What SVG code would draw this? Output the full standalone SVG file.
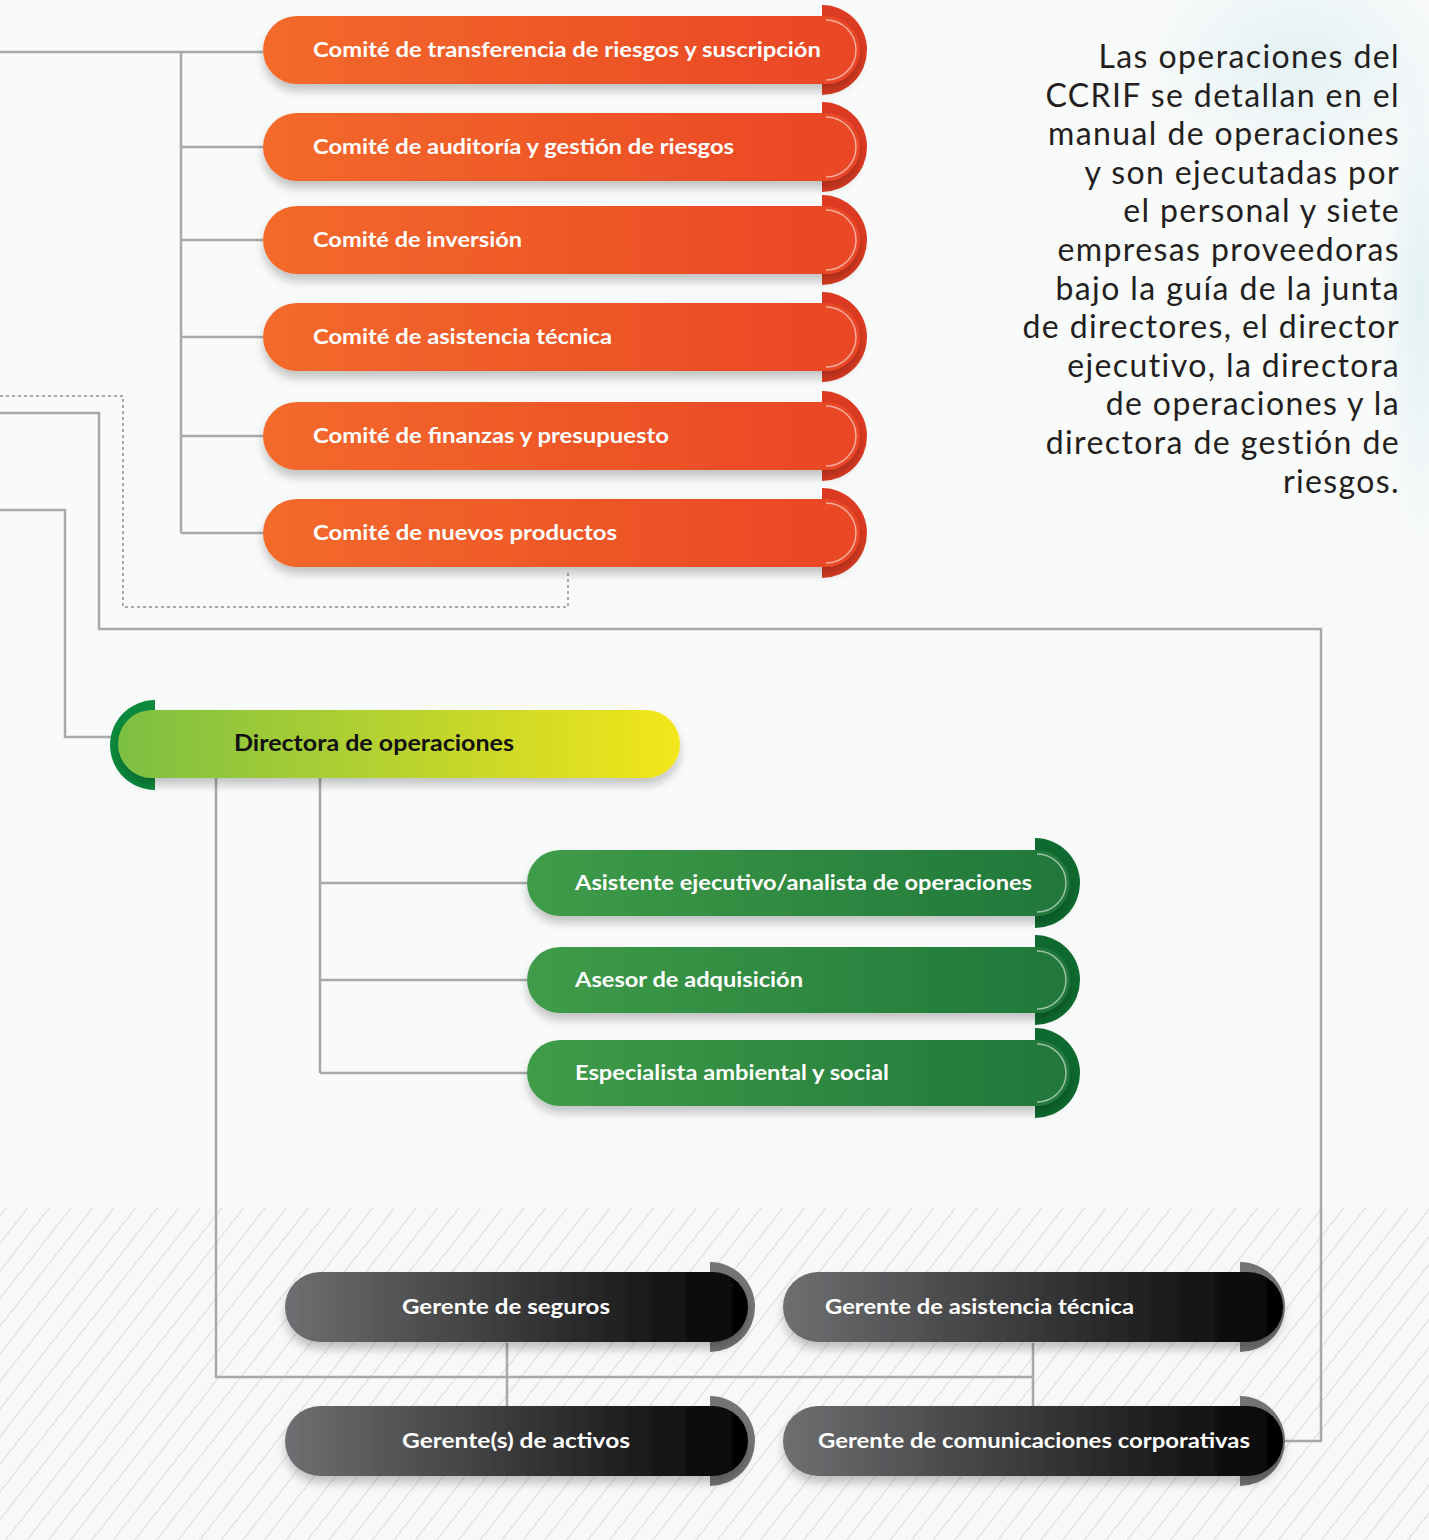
<svg xmlns="http://www.w3.org/2000/svg" width="1429" height="1540" viewBox="0 0 1429 1540">
<defs>
<style>
.conn{fill:none;stroke:#a9a9a9;stroke-width:2.5}
.dash{fill:none;stroke:#a9a9a9;stroke-width:2;stroke-dasharray:3 3}
.lbl{font-family:Lato,"Liberation Sans",sans-serif;font-weight:700;font-size:21px;fill:#ffffff}
.lblk{font-family:Lato,"Liberation Sans",sans-serif;font-weight:700;font-size:22px;fill:#111111}
.para{font-family:Lato,"Noto Sans",sans-serif;font-size:32px;letter-spacing:1.4px;fill:#231f20;text-anchor:end}
.shine{fill:none;stroke:#ffffff;stroke-opacity:0.55;stroke-width:1.5}
</style>
<linearGradient id="gOr" x1="0" y1="0" x2="1" y2="0"><stop offset="0" stop-color="#f36a2a"/><stop offset="1" stop-color="#ea4626"/></linearGradient>
<linearGradient id="gGr" x1="0" y1="0" x2="1" y2="0"><stop offset="0" stop-color="#3f9c48"/><stop offset="1" stop-color="#20773a"/></linearGradient>
<linearGradient id="gDir" x1="0" y1="0" x2="1" y2="0"><stop offset="0" stop-color="#7cbf43"/><stop offset="1" stop-color="#f4e61a"/></linearGradient>
<linearGradient id="gDk" x1="0" y1="0" x2="1" y2="0"><stop offset="0" stop-color="#6e6f71"/><stop offset="1" stop-color="#030303"/></linearGradient>
<filter id="sh" x="-10%" y="-30%" width="120%" height="180%"><feDropShadow dx="0" dy="7" stdDeviation="5" flood-color="#000" flood-opacity="0.22"/></filter>
<pattern id="hatch" width="17" height="17" patternUnits="userSpaceOnUse" patternTransform="rotate(38)"><line x1="0" y1="0" x2="0" y2="17" stroke="#d6d0d0" stroke-width="1.5"/></pattern>
<radialGradient id="wm" cx="0.5" cy="0.5" r="0.5"><stop offset="0" stop-color="#e3f1f4"/><stop offset="1" stop-color="#e3f1f4" stop-opacity="0"/></radialGradient>
</defs>
<rect width="1429" height="1540" fill="#f9fafa"/>
<ellipse cx="1300" cy="60" rx="160" ry="110" fill="url(#wm)"/>
<ellipse cx="1420" cy="300" rx="40" ry="260" fill="url(#wm)"/>
<rect x="0" y="1208" width="1429" height="332" fill="#f7f8f9"/>
<rect x="0" y="1208" width="1429" height="332" fill="url(#hatch)"/>

<g id="connectors">
<path class="conn" d="M0 52 H263 M181 52 V533 M181 147 H263 M181 240 H263 M181 337 H263 M181 436 H263 M181 533 H263"/>
<path class="dash" d="M0 396 H123 V607 H568 V572"/>
<path class="conn" d="M0 413 H99 V629 H1321 V1441 H1283"/>
<path class="conn" d="M0 510 H65 V737 H112"/>
<path class="conn" d="M216 778 V1377 H1033"/>
<path class="conn" d="M320 778 V1073 M320 883 H527 M320 980 H527 M320 1073 H527"/>
<path class="conn" d="M507 1343 V1407 M1033 1343 V1407" stroke-width="2"/>
</g>

<g id="n1"><path d="M822 5 A45 45 0 0 1 822 95 Z" fill="#dc3b22"/><rect x="263" y="16" width="597" height="68" rx="34" fill="url(#gOr)" filter="url(#sh)"/><path class="shine" d="M826 20 A30 30 0 0 1 826 80"/><text class="lbl" x="313" y="57" textLength="508" lengthAdjust="spacingAndGlyphs">Comité de transferencia de riesgos y suscripción</text></g>
<g id="n2"><path d="M822 102 A45 45 0 0 1 822 192 Z" fill="#dc3b22"/><rect x="263" y="113" width="597" height="68" rx="34" fill="url(#gOr)" filter="url(#sh)"/><path class="shine" d="M826 117 A30 30 0 0 1 826 177"/><text class="lbl" x="313" y="154" textLength="421" lengthAdjust="spacingAndGlyphs">Comité de auditoría y gestión de riesgos</text></g>
<g id="n3"><path d="M822 195 A45 45 0 0 1 822 285 Z" fill="#dc3b22"/><rect x="263" y="206" width="597" height="68" rx="34" fill="url(#gOr)" filter="url(#sh)"/><path class="shine" d="M826 210 A30 30 0 0 1 826 270"/><text class="lbl" x="313" y="247" textLength="209" lengthAdjust="spacingAndGlyphs">Comité de inversión</text></g>
<g id="n4"><path d="M822 292 A45 45 0 0 1 822 382 Z" fill="#dc3b22"/><rect x="263" y="303" width="597" height="68" rx="34" fill="url(#gOr)" filter="url(#sh)"/><path class="shine" d="M826 307 A30 30 0 0 1 826 367"/><text class="lbl" x="313" y="344" textLength="299" lengthAdjust="spacingAndGlyphs">Comité de asistencia técnica</text></g>
<g id="n5"><path d="M822 391 A45 45 0 0 1 822 481 Z" fill="#dc3b22"/><rect x="263" y="402" width="597" height="68" rx="34" fill="url(#gOr)" filter="url(#sh)"/><path class="shine" d="M826 406 A30 30 0 0 1 826 466"/><text class="lbl" x="313" y="443" textLength="356" lengthAdjust="spacingAndGlyphs">Comité de finanzas y presupuesto</text></g>
<g id="n6"><path d="M822 488 A45 45 0 0 1 822 578 Z" fill="#dc3b22"/><rect x="263" y="499" width="597" height="68" rx="34" fill="url(#gOr)" filter="url(#sh)"/><path class="shine" d="M826 503 A30 30 0 0 1 826 563"/><text class="lbl" x="313" y="540" textLength="304" lengthAdjust="spacingAndGlyphs">Comité de nuevos productos</text></g>

<g id="n7"><path d="M155 700 A45 45 0 0 0 155 790 Z" fill="#0c8a3d"/><rect x="118" y="710" width="562" height="68" rx="34" fill="url(#gDir)" filter="url(#sh)"/><text class="lblk" x="234" y="751" textLength="280" lengthAdjust="spacingAndGlyphs">Directora de operaciones</text></g>

<g id="n8"><path d="M1035 838 A45 45 0 0 1 1035 928 Z" fill="#0e6a2f"/><rect x="527" y="850" width="543" height="66" rx="33" fill="url(#gGr)" filter="url(#sh)"/><path class="shine" d="M1037 854 A29 29 0 0 1 1037 912"/><text class="lbl" x="575" y="890" textLength="457" lengthAdjust="spacingAndGlyphs">Asistente ejecutivo/analista de operaciones</text></g>
<g id="n9"><path d="M1035 935 A45 45 0 0 1 1035 1025 Z" fill="#0e6a2f"/><rect x="527" y="947" width="543" height="66" rx="33" fill="url(#gGr)" filter="url(#sh)"/><path class="shine" d="M1037 951 A29 29 0 0 1 1037 1009"/><text class="lbl" x="575" y="987" textLength="228" lengthAdjust="spacingAndGlyphs">Asesor de adquisición</text></g>
<g id="n10"><path d="M1035 1028 A45 45 0 0 1 1035 1118 Z" fill="#0e6a2f"/><rect x="527" y="1040" width="543" height="66" rx="33" fill="url(#gGr)" filter="url(#sh)"/><path class="shine" d="M1037 1044 A29 29 0 0 1 1037 1102"/><text class="lbl" x="575" y="1080" textLength="314" lengthAdjust="spacingAndGlyphs">Especialista ambiental y social</text></g>

<g id="n11"><path d="M710 1262 A45 45 0 0 1 710 1352 Z" fill="#747474"/><rect x="285" y="1272" width="463" height="70" rx="35" fill="url(#gDk)" filter="url(#sh)"/><text class="lbl" x="402" y="1314" textLength="208" lengthAdjust="spacingAndGlyphs">Gerente de seguros</text></g>
<g id="n12"><path d="M1240 1262 A45 45 0 0 1 1240 1352 Z" fill="#747474"/><rect x="783" y="1272" width="500" height="70" rx="35" fill="url(#gDk)" filter="url(#sh)"/><text class="lbl" x="825" y="1314" textLength="309" lengthAdjust="spacingAndGlyphs">Gerente de asistencia técnica</text></g>
<g id="n13"><path d="M710 1396 A45 45 0 0 1 710 1486 Z" fill="#747474"/><rect x="285" y="1406" width="463" height="70" rx="35" fill="url(#gDk)" filter="url(#sh)"/><text class="lbl" x="402" y="1448" textLength="228" lengthAdjust="spacingAndGlyphs">Gerente(s) de activos</text></g>
<g id="n14"><path d="M1240 1396 A45 45 0 0 1 1240 1486 Z" fill="#747474"/><rect x="783" y="1406" width="500" height="70" rx="35" fill="url(#gDk)" filter="url(#sh)"/><text class="lbl" x="818" y="1448" textLength="432" lengthAdjust="spacingAndGlyphs">Gerente de comunicaciones corporativas</text></g>

<g id="paragraph">
<text class="para" x="1400" y="68">Las operaciones del</text>
<text class="para" x="1400" y="106.6">CCRIF se detallan en el</text>
<text class="para" x="1400" y="145.2">manual de operaciones</text>
<text class="para" x="1400" y="183.8">y son ejecutadas por</text>
<text class="para" x="1400" y="222.4">el personal y siete</text>
<text class="para" x="1400" y="261">empresas proveedoras</text>
<text class="para" x="1400" y="299.6">bajo la guía de la junta</text>
<text class="para" x="1400" y="338.2">de directores, el director</text>
<text class="para" x="1400" y="376.8">ejecutivo, la directora</text>
<text class="para" x="1400" y="415.4">de operaciones y la</text>
<text class="para" x="1400" y="454">directora de gestión de</text>
<text class="para" x="1400" y="492.6">riesgos.</text>
</g>
</svg>
